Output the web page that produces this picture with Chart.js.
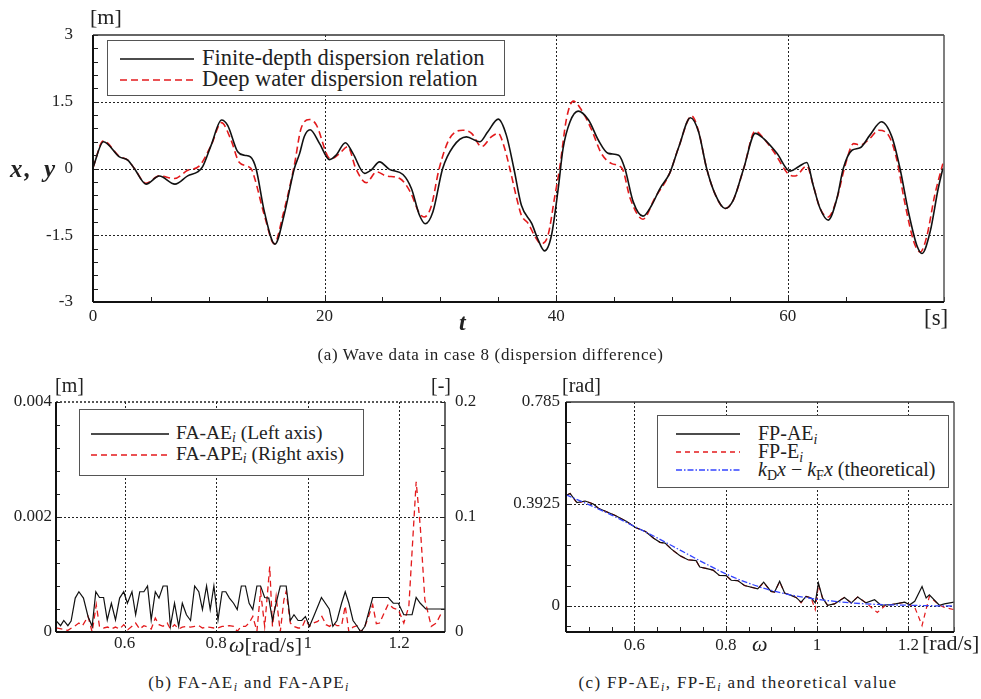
<!DOCTYPE html>
<html>
<head>
<meta charset="utf-8">
<script src="https://cdn.jsdelivr.net/npm/chart.js@4/dist/chart.umd.min.js"></script>
<style>
  html, body { margin: 0; padding: 0; background: #fff; }
  #wrap { position: relative; width: 981px; height: 699px; overflow: hidden; font-family: "Liberation Serif", "DejaVu Serif", serif; color: #222; }
  canvas { position: absolute; }
  .t { position: absolute; white-space: nowrap; line-height: 1; }
  .legend { position: absolute; border: 1.5px solid #555; background: #fff; box-sizing: border-box; }
  .legend svg { position: absolute; left: 0; top: 0; }
  .legend .lt { position: absolute; white-space: nowrap; line-height: 1; }
  sub { font-size: 70%; vertical-align: -0.25em; line-height: 0; }
</style>
</head>
<body>
<div id="wrap">
  <canvas id="cA" width="981" height="345" style="left:0;top:0;"></canvas>
  <canvas id="cB" width="490" height="300" style="left:0;top:360px;"></canvas>
  <canvas id="cC" width="491" height="300" style="left:490px;top:360px;"></canvas>

  <!-- top chart texts -->
  <div class="t" style="left:90px;top:6px;font-size:22px;">[m]</div>
  <div class="t" style="left:10px;top:156px;font-size:25px;font-weight:bold;font-style:italic;letter-spacing:2px;word-spacing:3px;">x, y</div>
  <div class="t" style="left:459px;top:310px;font-size:24px;font-weight:bold;font-style:italic;">t</div>
  <div class="t" style="left:924px;top:306px;font-size:23px;">[s]</div>
  <div class="t" style="left:0;width:981px;text-align:center;top:346px;font-size:17px;letter-spacing:0.65px;">(a) Wave data in case 8 (dispersion difference)</div>

  <div class="legend" style="left:107px;top:40px;width:398px;height:56px;">
    <svg width="398" height="56">
      <line x1="12" y1="18" x2="86" y2="18" stroke="#111" stroke-width="1.5"/>
      <line x1="12" y1="39" x2="86" y2="39" stroke="#e31a1c" stroke-width="1.5" stroke-dasharray="7,4"/>
    </svg>
    <div class="lt" style="left:94px;top:6px;font-size:22.5px;">Finite-depth dispersion relation</div>
    <div class="lt" style="left:94px;top:27px;font-size:22.5px;">Deep water dispersion relation</div>
  </div>

  <!-- bottom-left texts -->
  <div class="t" style="left:55px;top:375px;font-size:20px;">[m]</div>
  <div class="t" style="left:431px;top:375px;font-size:20px;">[-]</div>
  <div class="t" style="left:229px;top:634px;font-size:22px;"><i>ω</i>[rad/s]</div>
  <div class="t" style="left:0;width:498px;text-align:center;top:674px;font-size:17px;letter-spacing:1.4px;">(b) FA-AE<sub><i>i</i></sub> and FA-APE<sub><i>i</i></sub></div>

  <div class="legend" style="left:79px;top:409px;width:285px;height:67px;">
    <svg width="285" height="67">
      <line x1="11" y1="24" x2="89" y2="24" stroke="#111" stroke-width="1.3"/>
      <line x1="11" y1="45" x2="89" y2="45" stroke="#e31a1c" stroke-width="1.3" stroke-dasharray="6,4"/>
    </svg>
    <div class="lt" style="left:96px;top:13px;font-size:19.5px;">FA-AE<sub><i>i</i></sub> (Left axis)</div>
    <div class="lt" style="left:96px;top:34px;font-size:19.5px;">FA-APE<sub><i>i</i></sub> (Right axis)</div>
  </div>

  <!-- bottom-right texts -->
  <div class="t" style="left:562px;top:375px;font-size:20px;">[rad]</div>
  <div class="t" style="left:752px;top:633px;font-size:22px;font-style:italic;">ω</div>
  <div class="t" style="left:922px;top:632px;font-size:22px;">[rad/s]</div>
  <div class="t" style="left:490px;width:496px;text-align:center;top:674px;font-size:17px;letter-spacing:1.35px;">(c) FP-AE<sub><i>i</i></sub>, FP-E<sub><i>i</i></sub> and theoretical value</div>

  <div class="legend" style="left:657px;top:415px;width:292px;height:73px;">
    <svg width="292" height="73">
      <line x1="18" y1="18" x2="82" y2="18" stroke="#111" stroke-width="1.3"/>
      <line x1="18" y1="36" x2="82" y2="36" stroke="#e31a1c" stroke-width="1.3" stroke-dasharray="5,4"/>
      <line x1="18" y1="54" x2="82" y2="54" stroke="#3344ff" stroke-width="1.3" stroke-dasharray="6,2,1.5,2"/>
    </svg>
    <div class="lt" style="left:100px;top:7px;font-size:20px;">FP-AE<sub><i>i</i></sub></div>
    <div class="lt" style="left:100px;top:25px;font-size:20px;">FP-E<sub><i>i</i></sub></div>
    <div class="lt" style="left:100px;top:43px;font-size:20px;"><i>k</i><sub>D</sub><i>x</i> − <i>k</i><sub>F</sub><i>x</i> (theoretical)</div>
  </div>
</div>

<script>
// ---------------- DATA ----------------
// (a) wave elevation time series [t (s), value (m)]
const waveTimeFinite = [0, 0.9, 2.28, 3.0, 3.57, 4.58, 5.73, 7.08, 8.18, 9.04, 9.47, 10.2, 11.1, 11.63, 12.5, 13.07, 13.6, 14.08, 14.8, 15.72, 16.5, 17.39, 17.85, 18.25, 18.75, 19.57, 20.43, 21.0, 21.8, 22.45, 23.46, 24.0, 24.75, 25.6, 26.77, 27.5, 28.2, 28.7, 29.36, 30.2, 31.1, 32.25, 33.4, 34.1, 35.0, 35.7, 36.35, 37.0, 37.9, 38.4, 39.0, 39.6, 40.18, 40.6, 41.2, 41.9, 42.8, 43.64, 44.5, 45.4, 45.94, 46.66, 47.5, 48.25, 48.97, 49.8, 50.6, 51.6, 52.3, 53.0, 53.77, 54.6, 55.3, 56.2, 57.2, 57.9, 59.07, 60.2, 60.93, 61.65, 62.2, 62.8, 63.5, 64.25, 64.8, 65.55, 66.26, 67.1, 68.1, 69.0, 69.7, 70.43, 71.15, 71.6, 72.3, 73.0, 73.4];
const waveFinite = [0.02, 0.60, 0.26, 0.19, 0.0, -0.35, -0.17, -0.35, -0.165, -0.075, 0.04, 0.52, 1.09, 0.97, 0.375, 0.30, 0.26, 0.0, -0.97, -1.70, -1.05, 0.0, 0.34, 0.72, 0.87, 0.56, 0.2, 0.3, 0.58, 0.34, -0.11, -0.04, 0.15, -0.02, -0.135, -0.45, -1.05, -1.24, -0.97, 0.0, 0.49, 0.71, 0.6, 0.825, 1.11, 0.75, 0.0, -0.825, -1.24, -1.575, -1.85, -1.5, -0.45, 0.45, 1.05, 1.29, 1.09, 0.64, 0.34, 0.30, 0.0, -0.75, -1.07, -0.825, -0.45, -0.11, 0.49, 1.14, 0.825, 0.0, -0.6, -0.9, -0.71, 0.0, 0.79, 0.675, 0.34, -0.06, 0.04, 0.135, -0.375, -0.9, -1.16, -0.675, 0.0, 0.41, 0.465, 0.75, 1.05, 0.71, 0.0, -0.975, -1.725, -1.91, -1.425, -0.45, 0.0];
const waveTimeDeep = [0, 0.9, 2.28, 3.0, 3.57, 4.58, 5.73, 7.03, 8.18, 9.2, 10.2, 11.1, 11.92, 12.64, 13.65, 13.93, 14.8, 15.66, 16.4, 17.39, 17.95, 18.7, 19.3, 20.3, 20.6, 21.3, 22.0, 22.7, 23.6, 24.5, 25.3, 26.5, 27.4, 28.2, 28.6, 29.2, 29.9, 30.8, 31.95, 32.7, 33.55, 34.4, 35.0, 35.47, 36.0, 36.6, 37.0, 37.6, 38.2, 38.7, 39.3, 39.9, 40.3, 40.9, 41.48, 42.2, 43.08, 43.9, 44.8, 45.7, 46.4, 47.5, 48.5, 49.8, 50.6, 51.7, 52.3, 53.0, 53.77, 54.6, 55.3, 56.2, 57.2, 57.9, 58.8, 60.2, 60.65, 61.65, 62.2, 62.8, 63.5, 64.25, 64.97, 65.7, 66.26, 67.1, 67.85, 68.7, 69.4, 70.1, 70.9, 71.45, 72.0, 72.7, 73.4];
const waveDeep = [0.02, 0.62, 0.27, 0.19, 0.0, -0.33, -0.165, -0.225, -0.04, 0.06, 0.52, 1.03, 0.64, 0.135, 0.0, -0.19, -1.05, -1.69, -1.05, 0.075, 0.88, 1.10, 0.975, 0.26, 0.22, 0.34, 0.49, 0.0, -0.32, -0.075, -0.165, -0.225, -0.525, -1.01, -1.09, -0.86, 0.0, 0.675, 0.86, 0.79, 0.49, 0.71, 0.79, 0.525, 0.0, -0.675, -1.05, -1.24, -1.54, -1.69, -1.5, -0.6, 0.0, 1.125, 1.515, 1.31, 0.86, 0.34, 0.11, 0.0, -0.675, -1.14, -0.675, -0.11, 0.49, 1.18, 0.84, 0.0, -0.6, -0.9, -0.71, 0.0, 0.84, 0.68, 0.375, -0.15, -0.17, 0.06, -0.375, -0.9, -1.09, -0.675, 0.075, 0.56, 0.525, 0.675, 0.86, 0.75, 0.225, -0.75, -1.65, -1.875, -1.54, -0.6, 0.11];
const waveXTicks = [0, 20, 40, 60];
const waveYTicks = [-3, -1.5, 0, 1.5, 3];

// (b) frequency amplitude errors
const faOmegaAE = [0.451, 0.460, 0.467, 0.476, 0.483, 0.492, 0.500, 0.510, 0.520, 0.529, 0.537, 0.545, 0.554, 0.562, 0.571, 0.580, 0.589, 0.598, 0.606, 0.616, 0.624, 0.633, 0.642, 0.650, 0.658, 0.667, 0.675, 0.684, 0.693, 0.700, 0.709, 0.718, 0.726, 0.735, 0.744, 0.753, 0.762, 0.770, 0.779, 0.787, 0.795, 0.804, 0.813, 0.821, 0.829, 0.838, 0.846, 0.855, 0.864, 0.872, 0.880, 0.889, 0.897, 0.906, 0.915, 0.923, 0.931, 0.940, 0.948, 0.953, 0.962, 0.970, 0.979, 0.987, 0.995, 1.004, 1.013, 1.030, 1.047, 1.055, 1.064, 1.074, 1.082, 1.090, 1.099, 1.108, 1.116, 1.125, 1.142, 1.150, 1.176, 1.187, 1.198, 1.210, 1.228, 1.237, 1.246, 1.258, 1.300];
const faAE = [0.00019, 0.00011, 0.0002, 0.00011, 0.00019, 0.00059, 0.0007, 0.00059, 0.00027, 0.0001, 0.0007, 0.0006, 0.0006, 0.00021, 0.0005, 0.00021, 0.00059, 0.0007, 0.0005, 0.0007, 0.0003, 0.0007, 0.0007, 0.0008, 0.00021, 0.0007, 0.00059, 0.0008, 0.0008, 0.0001, 0.0005, 0.0001, 0.0005, 0.0003, 0.0002, 0.0008, 0.0007, 0.00039, 0.0008, 0.00039, 0.0008, 0.00021, 0.0007, 0.0007, 0.00059, 0.0005, 0.00039, 0.0008, 0.0008, 0.0005, 0.00039, 0.0008, 0.0008, 0.0006, 0.00059, 0.0002, 0.0005, 0.0008, 0.0008, 0.0008, 0.0002, 0.0003, 0.0002, 0.0002, 0.00027, 0.0001, 0.00027, 0.0006, 0.0004, 0.0001, 0.0002, 0.0005, 0.0007, 0.0005, 0.0002, 0.0001, 0, 0.0001, 0.0006, 0.0006, 0.0006, 0.0005, 0.0005, 0.0003, 0.0003, 0.0006, 0.0005, 0.0004, 0.0004];
const faOmegaAPE = [0.451, 0.476, 0.492, 0.500, 0.508, 0.520, 0.529, 0.538, 0.545, 0.554, 0.563, 0.571, 0.580, 0.589, 0.598, 0.607, 0.616, 0.624, 0.633, 0.642, 0.650, 0.658, 0.667, 0.675, 0.684, 0.693, 0.700, 0.709, 0.718, 0.726, 0.735, 0.744, 0.753, 0.762, 0.770, 0.779, 0.787, 0.795, 0.804, 0.813, 0.821, 0.829, 0.838, 0.846, 0.855, 0.864, 0.872, 0.880, 0.889, 0.897, 0.906, 0.917, 0.923, 0.931, 0.940, 0.948, 0.953, 0.962, 0.970, 0.979, 0.987, 0.995, 1.004, 1.013, 1.022, 1.031, 1.040, 1.048, 1.055, 1.064, 1.074, 1.082, 1.090, 1.099, 1.108, 1.116, 1.125, 1.142, 1.150, 1.157, 1.176, 1.187, 1.198, 1.210, 1.221, 1.237, 1.246, 1.256, 1.270, 1.281, 1.292];
const faAPE = [0.0035, 0.0014, 0.0055, 0.0078, 0.0055, 0.0136, 0, 0.0237, 0.0049, 0.0035, 0.0043, 0.0026, 0.0043, 0.0026, 0.0064, 0.002, 0.0049, 0.0078, 0.0026, 0.0055, 0.0043, 0.0026, 0.0121, 0.0064, 0.0049, 0.0078, 0.0026, 0.0064, 0.0026, 0.0043, 0.0049, 0.0043, 0.0049, 0.0055, 0.0035, 0.0043, 0.004, 0.0035, 0.0035, 0.0049, 0.0049, 0.0055, 0.0049, 0.0006, 0.0049, 0.0049, 0.0078, 0.0136, 0.0006, 0.0353, 0.0049, 0.0569, 0.0049, 0.0309, 0, 0.028, 0.0353, 0.0078, 0.0049, 0.0035, 0.0035, 0.0107, 0.0049, 0.0078, 0.0092, 0.0136, 0.0064, 0.0049, 0.0078, 0.0055, 0.0055, 0.0228, 0, 0.0043, 0.0055, 0, 0.0049, 0.0237, 0.0072, 0.0078, 0.0243, 0.0208, 0.0194, 0.0078, 0.0223, 0.1306, 0.0916, 0.028, 0.0049, 0.0078, 0.0165];
const faXTicks = [0.6, 0.8, 1, 1.2];
const faLeftTicks = [0, 0.002, 0.004];
const faRightTicks = [0, 0.1, 0.2];

// (c) frequency phase errors
const fpOmegaAE = [0.452, 0.459, 0.474, 0.492, 0.510, 0.521, 0.558, 0.583, 0.602, 0.624, 0.642, 0.656, 0.667, 0.681, 0.699, 0.717, 0.735, 0.743, 0.761, 0.772, 0.786, 0.801, 0.812, 0.826, 0.841, 0.870, 0.883, 0.899, 0.907, 0.918, 0.929, 0.943, 0.954, 0.965, 0.976, 0.987, 0.996, 1.003, 1.012, 1.023, 1.038, 1.060, 1.075, 1.089, 1.107, 1.126, 1.140, 1.163, 1.192, 1.203, 1.214, 1.230, 1.239, 1.246, 1.268, 1.279, 1.300];
const fpAE = [0.427, 0.433, 0.398, 0.404, 0.3925, 0.376, 0.348, 0.325, 0.302, 0.287, 0.261, 0.245, 0.242, 0.219, 0.194, 0.178, 0.175, 0.150, 0.143, 0.138, 0.118, 0.117, 0.099, 0.098, 0.079, 0.066, 0.092, 0.056, 0.054, 0.095, 0.05, 0.041, 0.033, 0.015, 0.037, 0.031, 0.012, 0.088, 0.031, 0.003, 0.008, 0.033, 0.012, 0.035, 0.012, 0.024, 0.003, 0.005, 0.015, 0.005, 0.018, 0.075, 0.031, 0.043, 0.003, 0.008, 0.015];
const fpOmegaE = [0.452, 0.459, 0.474, 0.492, 0.510, 0.521, 0.558, 0.583, 0.602, 0.624, 0.642, 0.656, 0.667, 0.681, 0.699, 0.717, 0.735, 0.743, 0.761, 0.772, 0.786, 0.801, 0.812, 0.826, 0.841, 0.870, 0.883, 0.899, 0.907, 0.918, 0.929, 0.943, 0.954, 0.965, 0.976, 0.987, 0.996, 1.003, 1.012, 1.023, 1.038, 1.060, 1.075, 1.089, 1.107, 1.132, 1.150, 1.163, 1.192, 1.203, 1.214, 1.230, 1.246, 1.268, 1.279, 1.300];
const fpE = [0.427, 0.433, 0.396, 0.404, 0.3925, 0.376, 0.348, 0.325, 0.302, 0.287, 0.261, 0.245, 0.242, 0.219, 0.194, 0.178, 0.175, 0.150, 0.143, 0.138, 0.118, 0.117, 0.099, 0.098, 0.079, 0.066, 0.090, 0.056, 0.054, 0.093, 0.05, 0.041, 0.033, 0.012, 0.037, 0.031, -0.014, 0.082, 0.031, 0.003, 0.008, 0.033, 0.012, 0.035, 0.012, -0.025, 0.003, 0.005, 0.015, 0.005, -0.005, -0.075, 0.037, 0.003, -0.005, -0.014];
const thOmega = [0.45, 0.5, 0.55, 0.6, 0.65, 0.7, 0.75, 0.8, 0.85, 0.9, 0.95, 1.0, 1.05, 1.1, 1.15, 1.2, 1.25, 1.3];
const thValue = [0.428, 0.39, 0.35, 0.306, 0.262, 0.215, 0.168, 0.124, 0.088, 0.06, 0.04, 0.026, 0.016, 0.009, 0.005, 0.003, 0.001, 0.0];
const fpXTicks = [0.6, 0.8, 1, 1.2];
const fpYTicks = [0, 0.3925, 0.785];

// ---------------- helpers ----------------
const pts = (xs, ys) => xs.map((x, i) => ({ x: x, y: ys[i] }));
const near = (v, arr) => arr.some(a => Math.abs(a - v) < 1e-7);
const FONT = { family: "'Liberation Serif', 'DejaVu Serif', serif", size: 17 };
const INK = '#222';

const decor = {
  id: 'decor',
  beforeDatasetsDraw(chart, args, o) {
    const ctx = chart.ctx, a = chart.chartArea;
    ctx.save();
    ctx.strokeStyle = '#222';
    ctx.lineWidth = 1;
    ctx.setLineDash([2, 2]);
    (o.grid || []).forEach(g => {
      const s = chart.scales[g.axis];
      g.values.forEach(v => {
        const p = Math.round(s.getPixelForValue(v)) + 0.5;
        ctx.beginPath();
        if (s.isHorizontal()) { ctx.moveTo(p, a.top); ctx.lineTo(p, a.bottom); }
        else { ctx.moveTo(a.left, p); ctx.lineTo(a.right, p); }
        ctx.stroke();
      });
    });
    ctx.restore();
  },
  afterDatasetsDraw(chart, args, o) {
    const ctx = chart.ctx, a = chart.chartArea;
    ctx.save();
    ctx.strokeStyle = '#222';
    ctx.lineWidth = 1;
    (o.ticks || []).forEach(t => {
      const s = chart.scales[t.axis];
      s.ticks.forEach(tk => {
        const p = Math.round(s.getPixelForValue(tk.value)) + 0.5;
        ctx.beginPath();
        if (t.side === 'left') { ctx.moveTo(a.left, p); ctx.lineTo(a.left + t.len, p); }
        else if (t.side === 'right') { ctx.moveTo(a.right, p); ctx.lineTo(a.right - t.len, p); }
        else { ctx.moveTo(p, a.bottom); ctx.lineTo(p, a.bottom - t.len); }
        ctx.stroke();
      });
    });
    (o.sides || []).forEach(sd => {
      ctx.strokeStyle = sd.color; ctx.lineWidth = sd.width; ctx.setLineDash(sd.dash || []);
      ctx.beginPath();
      if (sd.side === 'left') { ctx.moveTo(a.left, a.top); ctx.lineTo(a.left, a.bottom); }
      if (sd.side === 'right') { ctx.moveTo(a.right, a.top); ctx.lineTo(a.right, a.bottom); }
      if (sd.side === 'top') { ctx.moveTo(a.left, a.top); ctx.lineTo(a.right, a.top); }
      if (sd.side === 'bottom') { ctx.moveTo(a.left, a.bottom); ctx.lineTo(a.right, a.bottom); }
      ctx.stroke();
    });
    ctx.restore();
  }
};

// ---------------- chart (a) ----------------
new Chart(document.getElementById('cA'), {
  type: 'line',
  data: {
    datasets: [
      { data: pts(waveTimeFinite, waveFinite), borderColor: '#111', borderWidth: 1.6, pointRadius: 0, cubicInterpolationMode: 'monotone' },
      { data: pts(waveTimeDeep, waveDeep), borderColor: '#e31a1c', borderWidth: 1.6, borderDash: [7, 4], pointRadius: 0, cubicInterpolationMode: 'monotone' }
    ]
  },
  options: {
    responsive: false, animation: false, devicePixelRatio: 1,
    layout: { padding: { left: 0, right: 37, top: 35, bottom: 0 } },
    plugins: {
      legend: { display: false }, tooltip: { enabled: false },
      decor: {
        grid: [{ axis: 'x', values: [20, 40, 60] }, { axis: 'y', values: [-1.5, 0, 1.5] }],
        ticks: [{ axis: 'x', side: 'bottom', len: 5 }, { axis: 'y', side: 'left', len: 5 }],
        sides: [
          { side: 'top', color: '#333', width: 1.5 },
          { side: 'right', color: '#555', width: 1.5 },
          { side: 'left', color: '#111', width: 2 },
          { side: 'bottom', color: '#111', width: 2 }
        ]
      }
    },
    scales: {
      x: {
        type: 'linear', min: 0, max: 73.5,
        grid: { display: false, drawTicks: false }, border: { display: false },
        afterFit: s => { s.height = 43; },
        ticks: { font: FONT, color: INK, autoSkip: false, maxRotation: 0, stepSize: 5, padding: 4,
          callback: v => near(v, waveXTicks) ? String(Math.round(v)) : '' }
      },
      y: {
        type: 'linear', min: -3, max: 3,
        grid: { display: false, drawTicks: false }, border: { display: false },
        afterFit: s => { s.width = 93; },
        ticks: { font: FONT, color: INK, autoSkip: false, stepSize: 0.3, padding: 20,
          callback: v => near(v, waveYTicks) ? String(Math.round(v * 10) / 10) : '' }
      }
    }
  },
  plugins: [decor]
});

// ---------------- chart (b) ----------------
new Chart(document.getElementById('cB'), {
  type: 'line',
  data: {
    datasets: [
      { data: pts(faOmegaAE, faAE), yAxisID: 'y', borderColor: '#111', borderWidth: 1.2, pointRadius: 0, tension: 0 },
      { data: pts(faOmegaAPE, faAPE), yAxisID: 'y1', borderColor: '#e31a1c', borderWidth: 1.3, borderDash: [6, 4], pointRadius: 0, tension: 0 }
    ]
  },
  options: {
    responsive: false, animation: false, devicePixelRatio: 1,
    layout: { padding: { left: 0, right: 0, top: 42, bottom: 0 } },
    plugins: {
      legend: { display: false }, tooltip: { enabled: false },
      decor: {
        grid: [{ axis: 'x', values: [0.6, 0.8, 1.0, 1.2] }, { axis: 'y', values: [0.002] }],
        ticks: [{ axis: 'y', side: 'left', len: 4 }, { axis: 'y1', side: 'right', len: 4 }],
        sides: [
          { side: 'top', color: '#222', width: 1.5, dash: [2, 2] },
          { side: 'right', color: '#333', width: 1.5 },
          { side: 'left', color: '#111', width: 2 },
          { side: 'bottom', color: '#111', width: 2 }
        ]
      }
    },
    scales: {
      x: {
        type: 'linear', min: 0.45, max: 1.3,
        grid: { display: false, drawTicks: false }, border: { display: false },
        afterFit: s => { s.height = 28; },
        ticks: { font: FONT, color: INK, autoSkip: false, maxRotation: 0, stepSize: 0.2, padding: 1,
          callback: v => near(v, faXTicks) ? String(Math.round(v * 10) / 10) : '' }
      },
      y: {
        type: 'linear', position: 'left', min: 0, max: 0.004,
        grid: { display: false, drawTicks: false }, border: { display: false },
        afterFit: s => { s.width = 56; },
        ticks: { font: FONT, color: INK, autoSkip: false, stepSize: 0.0004, padding: 4,
          callback: v => near(v, faLeftTicks) ? (v === 0 ? '0' : v.toFixed(3)) : '' }
      },
      y1: {
        type: 'linear', position: 'right', min: 0, max: 0.2,
        grid: { display: false, drawTicks: false }, border: { display: false },
        afterFit: s => { s.width = 45; },
        ticks: { font: FONT, color: INK, autoSkip: false, stepSize: 0.02, padding: 10,
          callback: v => near(v, faRightTicks) ? (Math.abs(v) < 1e-9 ? '0' : v.toFixed(1)) : '' }
      }
    }
  },
  plugins: [decor]
});

// ---------------- chart (c) ----------------
new Chart(document.getElementById('cC'), {
  type: 'line',
  data: {
    datasets: [
      { data: pts(thOmega, thValue), borderColor: '#3344ff', borderWidth: 1.3, borderDash: [6, 2, 1.5, 2], pointRadius: 0, cubicInterpolationMode: 'monotone' },
      { data: pts(fpOmegaAE, fpAE), borderColor: '#111', borderWidth: 1.2, pointRadius: 0, tension: 0 },
      { data: pts(fpOmegaE, fpE), borderColor: '#e31a1c', borderWidth: 1.2, borderDash: [5, 4], pointRadius: 0, tension: 0 }
    ]
  },
  options: {
    responsive: false, animation: false, devicePixelRatio: 1,
    layout: { padding: { left: 0, right: 27, top: 42, bottom: 0 } },
    plugins: {
      legend: { display: false }, tooltip: { enabled: false },
      decor: {
        grid: [{ axis: 'x', values: [0.6, 0.8, 1.0, 1.2] }, { axis: 'y', values: [0, 0.3925] }],
        ticks: [{ axis: 'x', side: 'bottom', len: 5 }, { axis: 'y', side: 'left', len: 5 }],
        sides: [
          { side: 'top', color: '#333', width: 1.5 },
          { side: 'right', color: '#555', width: 1.5 },
          { side: 'left', color: '#111', width: 2 },
          { side: 'bottom', color: '#111', width: 2 }
        ]
      }
    },
    scales: {
      x: {
        type: 'linear', min: 0.45, max: 1.3,
        grid: { display: false, drawTicks: false }, border: { display: false },
        afterFit: s => { s.height = 28; },
        ticks: { font: FONT, color: INK, autoSkip: false, maxRotation: 0, stepSize: 0.05, padding: 3,
          callback: v => near(v, fpXTicks) ? String(Math.round(v * 10) / 10) : '' }
      },
      y: {
        type: 'linear', min: -0.1, max: 0.785,
        grid: { display: false, drawTicks: false }, border: { display: false },
        afterFit: s => { s.width = 76; },
        afterBuildTicks: s => {
          const t = [];
          for (let k = -1; k <= 10; k++) t.push({ value: k * 0.0785 });
          s.ticks = t;
        },
        ticks: { font: FONT, color: INK, autoSkip: false, padding: 6,
          callback: v => near(v, fpYTicks) ? (Math.abs(v) < 1e-9 ? '0' : String(Math.round(v * 10000) / 10000)) : '' }
      }
    }
  },
  plugins: [decor]
});
</script>
</body>
</html>
